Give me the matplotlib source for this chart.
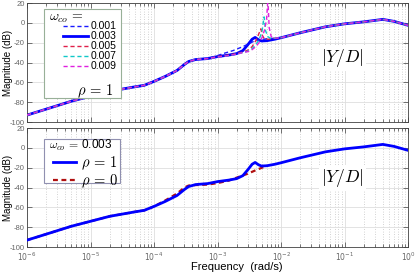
import numpy as np
import matplotlib
matplotlib.use("Agg")
import matplotlib.pyplot as plt
from matplotlib.patches import Rectangle
from matplotlib.ticker import LogLocator, NullFormatter

plt.rcParams['font.family'] = ['Liberation Sans', 'DejaVu Sans']
plt.rcParams['mathtext.fontset'] = 'cm'
plt.rcParams['axes.unicode_minus'] = False

# ---- data (frequency in rad/s, magnitude in dB) ----
# shared low / high frequency parts of every curve
freq_low = [1e-6, 2e-6, 5e-6, 1e-5, 2e-5, 3e-5, 5e-5, 7e-5, 1e-4, 1.5e-4, 2.3e-4, 3e-4, 3.5e-4, 4.5e-4, 7e-4]
mag_low = [-93, -87, -79, -74, -69, -67, -64.5, -63, -59, -54, -48, -42, -39, -37, -36]
freq_high = [1e-2, 2e-2, 5e-2, 1e-1, 2e-1, 4e-1, 6e-1, 1.0]
mag_high = [-15, -10, -4, -1, 1, 3.5, 1.5, -2.5]

# resonance region for each cut-off frequency (rho = 1)
wco_labels = ['0.001', '0.003', '0.005', '0.007', '0.009']
freq_mid_001 = [1e-3, 1.3e-3, 1.75e-3, 2.5e-3, 3.9e-3, 6e-3, 8e-3]
mag_mid_001 = [-33, -30.5, -28, -24, -18, -16, -15.5]
freq_mid_003 = [1e-3, 1.5e-3, 2e-3, 2.5e-3, 3e-3, 3.5e-3, 3.9e-3, 4.4e-3, 4.9e-3, 6e-3, 8e-3]
mag_mid_003 = [-34, -32.5, -31, -28, -22, -16.5, -14.7, -17, -18.3, -18, -16.5]
freq_mid_005 = [1e-3, 1.5e-3, 2e-3, 2.5e-3, 3e-3, 3.5e-3, 4e-3, 4.4e-3, 4.8e-3, 5.1e-3, 5.5e-3, 6.5e-3, 8e-3]
mag_mid_005 = [-34, -32.5, -31, -29.5, -27.5, -24, -18, -12, -6, -13, -16.5, -16.5, -15.5]
freq_mid_007 = [1e-3, 1.5e-3, 2e-3, 2.5e-3, 3e-3, 3.5e-3, 4e-3, 4.5e-3, 5e-3, 5.4e-3, 5.7e-3, 6.2e-3, 7e-3, 8e-3]
mag_mid_007 = [-34.5, -33, -31.5, -30, -28.5, -26, -22, -17, -9, 6, -8, -14, -16, -15.5]
freq_mid_009 = [1e-3, 1.5e-3, 2e-3, 2.5e-3, 3e-3, 3.5e-3, 4e-3, 4.5e-3, 5e-3, 5.5e-3, 5.9e-3, 6.2e-3, 6.5e-3, 7e-3, 8e-3]
mag_mid_009 = [-34.5, -33, -31.5, -30, -29, -27, -24, -20, -15, -7, 3, 24, -5, -14, -15.5]

# rho = 0 curve (w_co = 0.003), differs from rho = 1 between 1e-4 and 6e-3
freq_rho0 = [1e-6, 2e-6, 5e-6, 1e-5, 2e-5, 3e-5, 5e-5, 7e-5, 1e-4, 1.5e-4, 2.3e-4, 3e-4, 3.5e-4, 4.5e-4,
             7e-4, 1e-3, 1.5e-3, 2e-3, 3e-3, 4e-3, 5e-3, 6e-3]
mag_rho0 = [-93, -87, -79, -74, -69, -67, -64.5, -63, -59, -53, -46, -40, -38, -37.5,
            -37, -35.5, -33, -30, -26, -22.5, -20, -18]

top_colors = ['#1a1aff', '#0000ff', '#e0204a', '#10c8c8', '#e020e0']
top_styles = ['--', '-', '--', '--', '--']
top_widths = [1.0, 2.0, 1.0, 1.0, 1.0]


def full_curve(freq_mid, mag_mid):
    f = np.array(freq_low + freq_mid + freq_high)
    m = np.array(mag_low + mag_mid + mag_high)
    return f, m


def style_axes(ax, show_xlabels):
    ax.set_xscale('log')
    ax.set_xlim(1e-6, 1)
    ax.set_ylim(-100, 20)
    ax.set_yticks(range(-100, 21, 20))
    ax.xaxis.set_major_locator(LogLocator(base=10, numticks=10))
    ax.xaxis.set_minor_locator(LogLocator(base=10, subs=np.arange(2, 10), numticks=100))
    ax.xaxis.set_minor_formatter(NullFormatter())
    decades = [1e-6, 1e-5, 1e-4, 1e-3, 1e-2, 1e-1, 1]
    if show_xlabels:
        ax.set_xticks(decades, labels=[r'$10^{%d}$' % int(np.log10(d)) for d in decades])
        for lab in ax.get_xticklabels():
            lab.set_math_fontfamily('dejavusans')
    else:
        ax.set_xticks(decades, labels=[''] * len(decades))
    ax.tick_params(which='both', direction='in', top=True, right=True,
                   color='#404040', labelcolor='#666666', width=0.5)
    ax.tick_params(which='major', length=3.5, labelsize=5.5, pad=1.5)
    ax.tick_params(axis='x', which='major', labelsize=5.5, pad=2.5)
    ax.tick_params(which='minor', length=2)
    ax.grid(which='major', color='#dedede', lw=0.6, ls='-')
    ax.grid(which='minor', axis='x', color='#c4c4c4', lw=0.6, ls=(0, (1, 2)))
    ax.set_axisbelow(True)
    for sp in ax.spines.values():
        sp.set_color('#404040')
        sp.set_linewidth(0.6)
    ax.set_ylabel('Magnitude (dB)', fontsize=7)
    ax.yaxis.set_label_coords(-0.038, 0.5)


fig = plt.figure(figsize=(4.16, 2.73), dpi=100)
ax1 = fig.add_axes([0.065, 0.553, 0.916, 0.436])
ax2 = fig.add_axes([0.065, 0.095, 0.916, 0.436])

# ---- top panel: several cut-off frequencies ----
mids = [(freq_mid_001, mag_mid_001), (freq_mid_003, mag_mid_003), (freq_mid_005, mag_mid_005),
        (freq_mid_007, mag_mid_007), (freq_mid_009, mag_mid_009)]
handles = []
for i, (fm, mm) in enumerate(mids):
    f, m = full_curve(fm, mm)
    ls = top_styles[i]
    kw = dict(dashes=(3, 2)) if ls == '--' else {}
    h, = ax1.plot(f, m, color=top_colors[i], lw=top_widths[i], ls=ls,
                  zorder=2 if i == 1 else 3, **kw)
    handles.append(h)
style_axes(ax1, False)

ax1.add_patch(Rectangle((0.045, 0.202), 0.202, 0.748, transform=ax1.transAxes,
                        facecolor='white', edgecolor='#98b098', lw=0.8, zorder=5))
leg1 = ax1.legend(handles, wco_labels, loc='upper right', bbox_to_anchor=(0.236, 0.845),
                  frameon=False, fontsize=7.5, handlelength=2.4, handletextpad=0.3,
                  labelspacing=0.0, borderpad=0, borderaxespad=0)
leg1.set_zorder(6)
ax1.text(0.058, 0.875, r'$\omega_{co} \,=$', transform=ax1.transAxes, fontsize=10,
         va='center', ha='left', zorder=7)
ax1.text(0.18, 0.262, r'$\rho \,=\, 1$', transform=ax1.transAxes, fontsize=10.5,
         va='center', ha='center', zorder=7)
ax1.text(0.827, 0.535, r'$|Y/D|$', transform=ax1.transAxes, fontsize=12.5,
         ha='center', va='center', zorder=4,
         bbox=dict(facecolor='white', edgecolor='none', pad=1.5))

# ---- bottom panel: rho = 1 vs rho = 0 ----
f1, m1 = full_curve(freq_mid_003, mag_mid_003)
h1, = ax2.plot(f1, m1, color='#0000ff', lw=2.0, zorder=3)
h0, = ax2.plot(freq_rho0, mag_rho0, color='#b01010', lw=1.6, ls='--', dashes=(2.2, 1.6), zorder=2)
style_axes(ax2, True)
ax2.set_xlabel('Frequency  (rad/s)', fontsize=8)
ax2.xaxis.set_label_coords(0.55, -0.125)

ax2.add_patch(Rectangle((0.045, 0.538), 0.2, 0.37, transform=ax2.transAxes,
                        facecolor='white', edgecolor='#9090b0', lw=0.8, zorder=5))
leg2 = ax2.legend([h1, h0], [r'$\rho \,=\, 1$', r'$\rho \,=\, 0$'], loc='upper left',
                  bbox_to_anchor=(0.068, 0.775), frameon=False, fontsize=10.5,
                  handlelength=1.6, handletextpad=0.35, labelspacing=0.0,
                  borderpad=0, borderaxespad=0)
leg2.set_zorder(6)
ax2.text(0.058, 0.85, r'$\omega_{co} \,=\, $0.003', transform=ax2.transAxes, fontsize=8.5,
         va='center', ha='left', zorder=7)
ax2.text(0.827, 0.58, r'$|Y/D|$', transform=ax2.transAxes, fontsize=12.5,
         ha='center', va='center', zorder=4,
         bbox=dict(facecolor='white', edgecolor='none', pad=1.5))

fig.savefig('out.png', dpi=100)
plt.close(fig)
